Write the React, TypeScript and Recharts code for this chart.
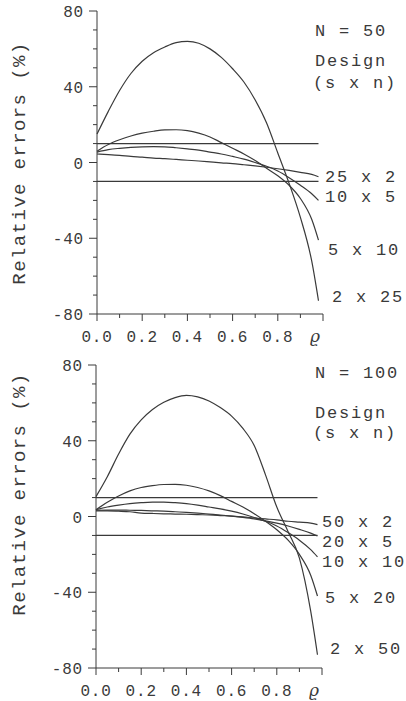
import { LineChart, Line, XAxis, YAxis, ReferenceLine } from 'recharts';

// correlation values along the x axis
const rho = [0, 0.05, 0.1, 0.15, 0.2, 0.25, 0.3, 0.35, 0.4, 0.45, 0.5, 0.55, 0.6, 0.65, 0.7, 0.75, 0.8, 0.85, 0.9, 0.95, 0.98];

// N = 50 designs
const top2x25 = [15, 27, 38, 47, 53.5, 58, 61, 63.3, 64, 63, 60, 55.5, 49.5, 42.5, 33, 21, 5, -11, -29, -52, -73];
const top5x10 = [6, 9.5, 12, 14, 15.5, 16.5, 17.2, 17.3, 16.8, 15.5, 13.5, 10.5, 7.5, 4.5, 1, -3, -7, -12, -19, -30, -41];
const top10x5 = [5.5, 6.8, 7.5, 8, 8.3, 8.4, 8.3, 7.8, 7.2, 6.5, 5.5, 4.5, 3.2, 1.8, 0, -2, -4.5, -8, -12, -16.5, -20];
const top25x2 = [4.5, 4.2, 3.8, 3.2, 2.8, 2.3, 2, 1.6, 1.2, 0.8, 0.3, -0.2, -0.6, -1.2, -1.8, -2.5, -3.3, -4.2, -5.2, -6.3, -7.5];

// N = 100 designs
const bot2x50 = [10.5, 21, 33, 43.5, 51, 56.5, 60.3, 62.8, 64, 63.2, 61, 57.5, 53, 46.5, 37.5, 22, 5, -8, -22, -50, -73];
const bot5x20 = [3.6, 7.5, 10.8, 13.5, 15.3, 16.3, 16.9, 17, 16.5, 15.3, 13.5, 11, 8, 5, 1.5, -2.5, -7, -12.5, -20, -31, -42];
const bot10x10 = [3.6, 5, 6, 6.8, 7.3, 7.6, 7.6, 7.3, 6.8, 6, 5, 4, 2.8, 1.3, -0.5, -2.5, -5, -8.5, -12.5, -17.5, -21.3];
const bot20x5 = [3.3, 3.4, 3.4, 3.3, 3.2, 3, 2.8, 2.5, 2.2, 1.8, 1.3, 0.8, 0.2, -0.5, -1.3, -2.3, -3.5, -5, -6.8, -8.8, -10.3];
const bot50x2 = [3, 3, 2.8, 2.5, 1.8, 1.6, 1.4, 1.3, 1.2, 1, 0.8, 0.5, 0.2, -0.2, -0.8, -1.3, -1.8, -2.5, -3, -3.5, -4.3];

const topNames = ['2 x 25', '5 x 10', '10 x 5', '25 x 2'];
const botNames = ['2 x 50', '5 x 20', '10 x 10', '20 x 5', '50 x 2'];

const limits = [10, -10];
const xTicks = [0, 0.1, 0.2, 0.3, 0.4, 0.5, 0.6, 0.7, 0.8, 0.9, 1];
const yTicks = [-80, -70, -60, -50, -40, -30, -20, -10, 0, 10, 20, 30, 40, 50, 60, 70, 80];

const INK = '#3a3a3a';
const MONO = '"Liberation Mono", "DejaVu Sans Mono", monospace';

const buildRows = (series: number[][]) =>
  rho.map((r, i) => {
    const row: Record<string, number> = { rho: r };
    series.forEach((s, k) => (row['s' + k] = s[i]));
    return row;
  });

const XTick = (props: any) => {
  const { x, y, payload } = props;
  const v = payload.value;
  const major = Math.round(v * 10) % 2 === 0;
  return (
    <g>
      <line x1={x} x2={x} y1={y} y2={y + (major ? 7 : 4)} stroke={INK} />
      {major && v === 1 && (
        <text x={x - 8} y={y + 28} textAnchor="middle" fontFamily="DejaVu Serif" fontStyle="italic" fontSize={17} fill={INK}>
          ϱ
        </text>
      )}
      {major && v !== 1 && (
        <text x={x} y={y + 28} textAnchor="middle" fontFamily={MONO} fontSize={16} letterSpacing={0.8} fill={INK}>
          {v.toFixed(1)}
        </text>
      )}
    </g>
  );
};

const YTick = (props: any) => {
  const { x, y, payload } = props;
  const v = payload.value;
  const major = v % 40 === 0;
  return (
    <g>
      <line x1={x - (major ? 8 : 4)} x2={x} y1={y} y2={y} stroke={INK} />
      {major && (
        <text x={x - 13} y={y + 6} textAnchor="end" fontFamily={MONO} fontSize={16} letterSpacing={0.8} fill={INK}>
          {v}
        </text>
      )}
    </g>
  );
};

type PanelProps = {
  top: number;
  height: number;
  margin: { top: number; right: number; bottom: number; left: number };
  series: number[][];
};

const Panel = ({ top, height, margin, series }: PanelProps) => {
  const rows = buildRows(series);
  return (
    <div style={{ position: 'absolute', left: 0, top }}>
      <LineChart width={406} height={height} data={rows} margin={margin}>
        <XAxis
          dataKey="rho"
          type="number"
          domain={[0, 1]}
          ticks={xTicks}
          interval={0}
          tickSize={0}
          tickMargin={0}
          height={30}
          tick={<XTick />}
          stroke={INK}
        />
        <YAxis
          type="number"
          domain={[-80, 80]}
          ticks={yTicks}
          interval={0}
          tickSize={0}
          tickMargin={0}
          width={60}
          tick={<YTick />}
          stroke={INK}
        />
        {limits.map((v) => (
          <ReferenceLine
            key={v}
            segment={[
              { x: 0, y: v },
              { x: rho[rho.length - 1], y: v },
            ]}
            stroke={INK}
            strokeWidth={1.2}
          />
        ))}
        {series.map((_, k) => (
          <Line
            key={k}
            dataKey={'s' + k}
            type="monotone"
            dot={false}
            stroke={INK}
            strokeWidth={1.2}
            isAnimationActive={false}
          />
        ))}
      </LineChart>
    </div>
  );
};

const txt = {
  fontFamily: MONO,
  fontSize: 17,
  letterSpacing: 1.8,
  fill: INK,
  dominantBaseline: 'central' as const,
};

export default function App() {
  const topLabelPos = [
    [332, 297],
    [328, 250],
    [325, 197],
    [325, 177],
  ];
  const botLabelPos = [
    [330, 649],
    [325, 598],
    [322, 562],
    [322, 542],
    [322, 522],
  ];
  return (
    <div style={{ position: 'absolute', left: 0, top: 0, width: 406, height: 701, background: '#fff', overflow: 'hidden' }}>
      <Panel top={0} height={350} margin={{ top: 11, right: 83, bottom: 6, left: 37 }} series={[top2x25, top5x10, top10x5, top25x2]} />
      <Panel top={350} height={351} margin={{ top: 15, right: 84, bottom: 3, left: 36 }} series={[bot2x50, bot5x20, bot10x10, bot20x5, bot50x2]} />
      <svg width={406} height={701} style={{ position: 'absolute', left: 0, top: 0, pointerEvents: 'none' }}>
        <text x={315} y={31} {...txt}>N = 50</text>
        <text x={315} y={61} {...txt}>Design</text>
        <text x={313} y={83} {...txt}>(s x n)</text>
        {topNames.map((n, i) => (
          <text key={n} x={topLabelPos[i][0]} y={topLabelPos[i][1]} {...txt}>{n}</text>
        ))}
        <text x={315} y={373} {...txt}>N = 100</text>
        <text x={315} y={413} {...txt}>Design</text>
        <text x={313} y={433} {...txt}>(s x n)</text>
        {botNames.map((n, i) => (
          <text key={n} x={botLabelPos[i][0]} y={botLabelPos[i][1]} {...txt}>{n}</text>
        ))}
        <text x={20} y={163} transform="rotate(-90 20 163)" textAnchor="middle" fontFamily={MONO} fontSize={19} letterSpacing={1.4} fill={INK} dominantBaseline="central">
          Relative errors (%)
        </text>
        <text x={20} y={494} transform="rotate(-90 20 494)" textAnchor="middle" fontFamily={MONO} fontSize={19} letterSpacing={1.4} fill={INK} dominantBaseline="central">
          Relative errors (%)
        </text>
      </svg>
    </div>
  );
}
